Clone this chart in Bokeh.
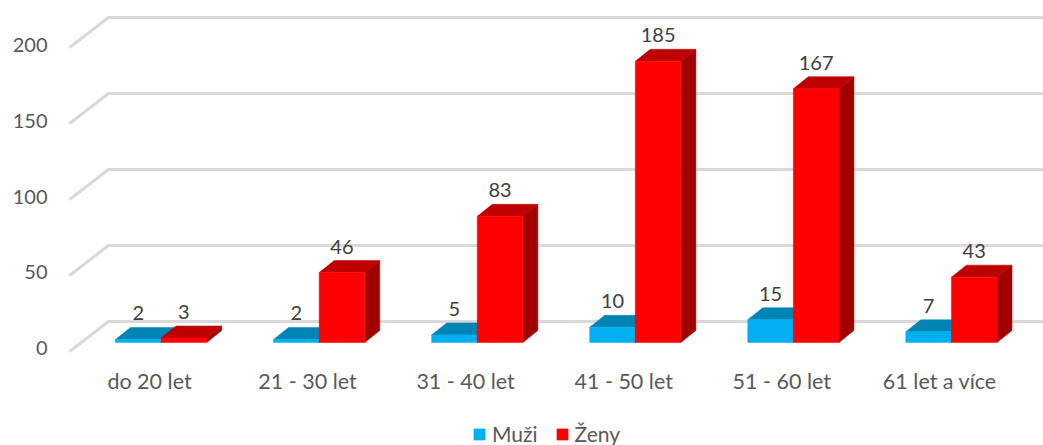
from bokeh.plotting import figure
from bokeh.embed import file_html
from bokeh.resources import INLINE
from bokeh.models import Range1d, LinearAxis, FixedTicker, Legend, LegendItem
from bokeh.core.properties import value

categories = ["do 20 let", "21 - 30 let", "31 - 40 let", "41 - 50 let", "51 - 60 let", "61 let a více"]
muzi = [2, 2, 5, 10, 15, 7]
zeny = [3, 46, 83, 185, 167, 43]
y_ticks = [0, 50, 100, 150, 200]

FONT = "Lato"
W, H = 1043, 445
LEFT = 55
PX_CAT = 158.06     # pixels per category
PX_VAL = 1.52       # pixels per value unit
BAR_W = 45.6 / PX_CAT
BAR_OFF = -34 / PX_CAT   # left edge of the blue bar relative to the category label centre
DX, DY = 15 / PX_CAT, 12 / PX_VAL

# page pixel of frame edges
fl, fr, ft, fb = LEFT, W, 0, H
x0_px, y0_px = 149.0, 342.0
x_range = Range1d((fl - x0_px) / PX_CAT, (fr - x0_px) / PX_CAT)
y_range = Range1d((y0_px - fb) / PX_VAL, (y0_px - ft) / PX_VAL)

p = figure(width=W, height=H, output_backend="svg", toolbar_location=None,
           x_range=x_range, y_range=y_range,
           x_axis_location=None, y_axis_location=None,
           min_border_left=LEFT, min_border_right=0, min_border_top=0, min_border_bottom=0,
           outline_line_color=None, background_fill_color="white", border_fill_color="white")
p.xgrid.visible = False
p.ygrid.visible = False

# y axis labels sit a little below the bars' zero level
LBL0 = 347.5
LBL_PX = 1.515
p.extra_y_ranges = {"labels": Range1d((LBL0 - fb) / LBL_PX, (LBL0 - ft) / LBL_PX)}
yax = LinearAxis(y_range_name="labels", ticker=FixedTicker(ticks=y_ticks),
                 axis_line_color=None, major_tick_line_color=None, minor_tick_line_color=None,
                 major_tick_out=0, major_tick_in=0,
                 major_label_text_font=FONT, major_label_text_font_size="20px",
                 major_label_text_color="#595959", major_label_standoff=8)
p.add_layout(yax, "left")

xax = LinearAxis(ticker=FixedTicker(ticks=list(range(len(categories)))),
                 major_label_overrides={i: c for i, c in enumerate(categories)},
                 fixed_location=(y0_px - 360) / PX_VAL,
                 axis_line_color=None, major_tick_line_color=None, minor_tick_line_color=None,
                 major_tick_out=0, major_tick_in=0,
                 major_label_text_font=FONT, major_label_text_font_size="21.5px",
                 major_label_text_color="#595959", major_label_standoff=7)
p.add_layout(xax, "below")

# wall and floor gridlines
BACK_X, FRONT_X = (108 - x0_px) / PX_CAT, (69 - x0_px) / PX_CAT
BACK_Y, FRONT_Y = 21 / PX_VAL, -9 / PX_VAL
p.multi_line(xs=[[FRONT_X, BACK_X, x_range.end + 1] for _ in y_ticks],
             ys=[[v + FRONT_Y, v + BACK_Y, v + BACK_Y] for v in y_ticks],
             line_color="#D9D9D9", line_width=3)

def faces(values, start):
    fx, fy, tx, ty, sx, sy = [], [], [], [], [], []
    for i, v in enumerate(values):
        a = i + BAR_OFF + start
        b = a + BAR_W
        fx.append([a, b, b, a]); fy.append([0, 0, v, v])
        tx.append([a, b, b + DX, a + DX]); ty.append([v, v, v + DY, v + DY])
        sx.append([b, b + DX, b + DX, b]); sy.append([0, DY, v + DY, v])
    return fx, fy, tx, ty, sx, sy

def bars(values, start, front, top, side):
    fx, fy, tx, ty, sx, sy = faces(values, start)
    p.patches(sx, sy, fill_color=side, line_color=side, line_width=0.5)
    p.patches(tx, ty, fill_color=top, line_color=top, line_width=0.5)
    return p.patches(fx, fy, fill_color=front, line_color=front, line_width=0.5)

r_m = bars(muzi, 0, "#00B0F0", "#0084B4", "#00759F")
r_z = bars(zeny, BAR_W, "#FF0000", "#BF0000", "#A00000")

def labels(values, start):
    xs = [i + BAR_OFF + start + BAR_W / 2 for i in range(len(values))]
    p.text(xs, values, text=[str(v) for v in values], text_align="center", text_baseline="middle",
           y_offset=-26, text_font=value(FONT), text_font_size="20px", text_color="#404040")

labels(muzi, 0)
labels(zeny, BAR_W)

legend = Legend(items=[LegendItem(label="Muži", renderers=[r_m]), LegendItem(label="Ženy", renderers=[r_z])],
                orientation="horizontal", location=(472 - fl, -1),
                background_fill_alpha=0, border_line_color=None, padding=0, margin=0,
                glyph_width=14, glyph_height=14, label_standoff=6, spacing=17, label_height=14,
                label_text_font=FONT, label_text_font_size="21px", label_text_color="#595959",
                label_text_baseline="middle")
p.add_layout(legend)

open("out.html", "w").write(file_html(p, INLINE))
